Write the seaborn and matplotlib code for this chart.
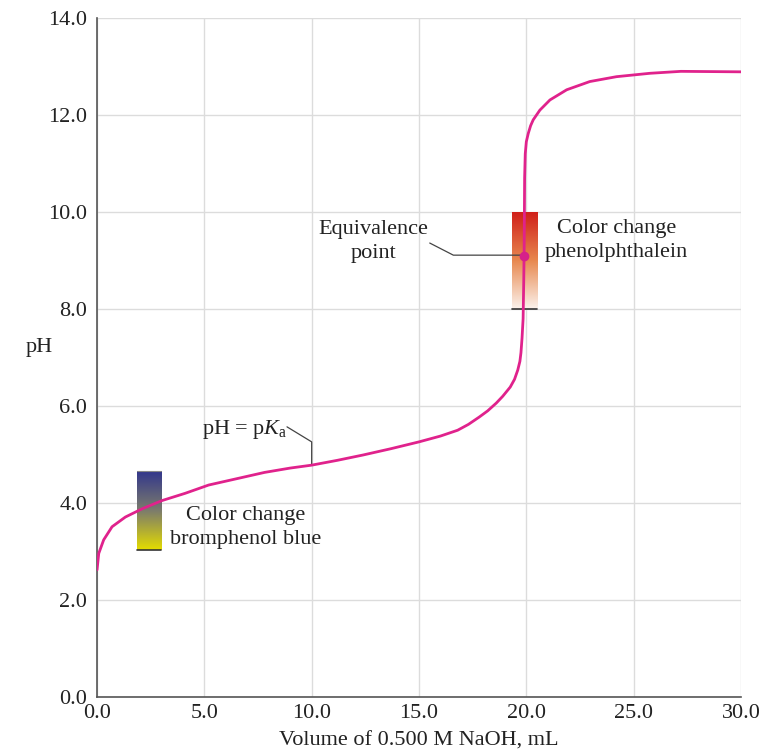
import numpy as np
import pandas as pd
import matplotlib
matplotlib.use("Agg")
import matplotlib.pyplot as plt
from matplotlib.colors import LinearSegmentedColormap
import seaborn as sns

# titration curve
volume = [0.0, 0.08, 0.31, 0.7, 1.32, 2.1, 3.03, 4.11, 5.2, 6.7, 7.8, 9.0, 10.0,
          11.2, 12.4, 13.7, 15.0, 16.0, 16.8, 17.3, 17.8, 18.2, 18.6, 18.9,
          19.25, 19.45, 19.6, 19.7, 19.75, 19.8, 19.85, 19.88, 19.9, 19.91,
          19.92, 19.95, 20.0, 20.09, 20.2, 20.32, 20.63, 21.1, 21.88, 22.96,
          24.2, 25.76, 27.2, 30.0]
ph = [2.62, 2.96, 3.24, 3.51, 3.71, 3.88, 4.05, 4.2, 4.37, 4.52, 4.63, 4.72, 4.78,
      4.88, 4.99, 5.12, 5.26, 5.38, 5.5, 5.62, 5.77, 5.9, 6.06, 6.2,
      6.39, 6.55, 6.74, 6.92, 7.1, 7.4, 7.8, 8.6, 9.3, 10.0,
      10.7, 11.2, 11.45, 11.62, 11.78, 11.9, 12.1, 12.31, 12.52, 12.69,
      12.79, 12.86, 12.9, 12.89]

equiv_point = (19.9, 9.1)
pka_point = (10.0, 4.78)

# indicator ranges
bromphenol_x = [1.85, 3.0]
bromphenol_ph = [3.03, 4.65]
bromphenol_colors = ["#e4dc00", "#7c7c6c", "#33378c"]
phenol_x = [19.33, 20.5]
phenol_ph = [8.0, 10.0]
phenol_colors = ["#fbf2ec", "#e8884f", "#d0201a"]

xticks = [0, 5, 10, 15, 20, 25, 30]
yticks = [0, 2, 4, 6, 8, 10, 12, 14]

df = pd.DataFrame({"volume": volume, "pH": ph})

sns.set_style("whitegrid", {"grid.color": "#dcdcdc", "axes.edgecolor": "#555555"})
plt.rcParams["font.family"] = ["Liberation Serif", "DejaVu Serif"]
plt.rcParams["mathtext.fontset"] = "custom"
plt.rcParams["mathtext.rm"] = "Liberation Serif"
plt.rcParams["mathtext.it"] = "Liberation Serif:italic"

fig = plt.figure(figsize=(7.61, 7.5), dpi=100)
ax = fig.add_axes([0.1275, 0.0707, 0.8462, 0.9053])

# colour bars for the indicators
def gradient_bar(xr, yr, colors):
    cmap = LinearSegmentedColormap.from_list("g", colors)
    grad = np.linspace(0, 1, 200).reshape(-1, 1)
    ax.imshow(grad, cmap=cmap, origin="lower", aspect="auto",
              extent=[xr[0], xr[1], yr[0], yr[1]], zorder=2)
    ax.plot(xr, [yr[0], yr[0]], color="#333333", lw=1.2, zorder=3)

gradient_bar(bromphenol_x, bromphenol_ph, bromphenol_colors)
ax.plot(bromphenol_x, [bromphenol_ph[1]] * 2, color="#888888", lw=0.8, zorder=3)
gradient_bar(phenol_x, phenol_ph, phenol_colors)

sns.lineplot(data=df, x="volume", y="pH", ax=ax, color="#e0228c", lw=2.0,
             sort=False, zorder=4)
ax.plot(*equiv_point, "o", color="#d6208a", ms=6, zorder=5)

# leader lines
ax.plot([15.5, 16.6, equiv_point[0]], [9.36, 9.11, 9.11],
        color="#444444", lw=0.9, zorder=3)
ax.plot([8.85, pka_point[0], pka_point[0]], [5.57, 5.26, pka_point[1]],
        color="#444444", lw=0.9, zorder=3)

fs = 16
ax.text(12.86, 9.39, "Equivalence\npoint", ha="center", va="center",
        fontsize=fs, color="#222222", linespacing=1.35)
ax.text(24.2, 9.42, "Color change\nphenolphthalein", ha="center", va="center",
        fontsize=fs, color="#222222", linespacing=1.35)
ax.text(6.9, 3.5, "Color change\nbromphenol blue", ha="center", va="center",
        fontsize=fs, color="#222222", linespacing=1.35)
ax.text(6.9, 5.52, r"pH = p$K_{\mathrm{a}}$", ha="center", va="center",
        fontsize=fs, color="#222222")

ax.set_xlim(0, 30)
ax.set_ylim(0, 14)
ax.set_xticks(xticks)
ax.set_yticks(yticks)
ax.set_xticklabels([f"{t:.1f}" for t in xticks], fontsize=fs)
ax.set_yticklabels([f"{t:.1f}" for t in yticks], fontsize=fs)
ax.tick_params(axis="both", direction="in", length=10, width=1,
               color="#333333", labelcolor="#222222")
ax.tick_params(axis="y", pad=7)
ax.tick_params(axis="x", length=13, pad=5)
for side in ["top", "right"]:
    ax.spines[side].set_visible(False)
for side in ["left", "bottom"]:
    ax.spines[side].set_linewidth(1.2)
ax.set_xlabel("Volume of 0.500 M NaOH, mL", fontsize=fs, color="#222222", labelpad=6)
ax.set_ylabel("pH", fontsize=fs, color="#222222", rotation=0)
ax.yaxis.set_label_coords(-0.09, 0.5)
ax.grid(True, lw=1.0)

fig.savefig("out.png", dpi=100)
